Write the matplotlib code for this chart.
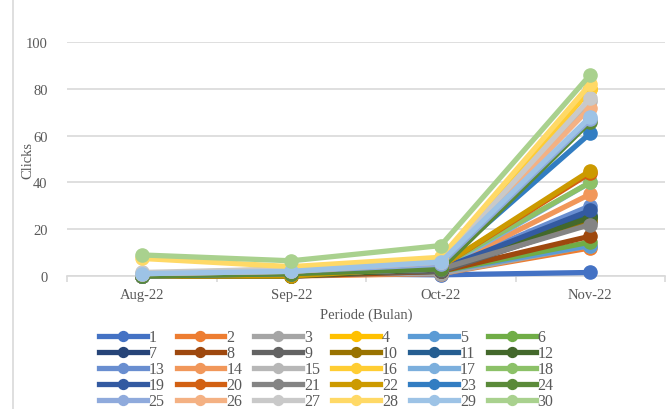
import matplotlib
matplotlib.use('Agg')
import matplotlib.pyplot as plt
from matplotlib.lines import Line2D

plt.rcParams['font.family'] = ['Liberation Serif', 'DejaVu Serif']

# periode dan jumlah klik per seri (1..30)
bulan = ['Aug-22', 'Sep-22', 'Oct-22', 'Nov-22']
seri = [str(i) for i in range(1, 31)]
aug = [0, 0, 0, 0, 0, 0, 0, 0, 0, 0, 0, 0, 0, 0, 1, 1, 0, 0,
       0, 0, 0, 0, 0, 0, 1, 1, 1.5, 7.5, 1, 9]
sep = [1, 0, 1, 1, 0, 1, 1, 0, 1, 1, 1, 0, 1, 1, 2, 3, 1, 1,
       1, 1, 1, 0, 1, 1, 2, 2, 3, 4, 2, 6.5]
oct_ = [0.5, 1, 1, 2, 2, 2, 2, 2, 2, 3, 3, 3, 3, 3, 4, 5, 3, 4,
        3, 4, 3, 4, 5, 3, 5, 6, 6, 8, 6, 13]
nov = [1.5, 12, 13, 80, 13, 14.5, 25, 17, 23, 24, 26, 25, 30, 35, 75, 80, 40, 40,
       28, 44, 22, 45, 61, 66, 67, 72, 76, 82, 68, 86]

warna = ['#4472C4', '#ED7D31', '#A5A5A5', '#FFC000', '#5B9BD5', '#70AD47',
         '#264478', '#9E480E', '#636363', '#997300', '#255E91', '#43682B',
         '#698ED0', '#F1975A', '#B7B7B7', '#FFCD33', '#7CAFDD', '#8CC168',
         '#335AA1', '#D26012', '#848484', '#CC9A00', '#327DC2', '#5A8A39',
         '#8FAADC', '#F4B183', '#C9C9C9', '#FFD966', '#9DC3E6', '#A9D18E']

teks = '#595959'
garis = '#D9D9D9'

fig = plt.figure(figsize=(6.72, 4.10), dpi=100)
ax = fig.add_axes([0.0997, 0.3244, 0.8899, 0.5707])

x = list(range(len(bulan)))
handles = []
for i in range(len(seri)):
    y = [aug[i], sep[i], oct_[i], nov[i]]
    h, = ax.plot(x, y, '-o', color=warna[i], lw=3.8, ms=9.5, clip_on=False,
                 zorder=3 + i * 0.01, label=seri[i])
    handles.append(h)

ax.set_xlim(-0.5, 3.5)
ax.set_ylim(0, 100)
ax.set_yticks(range(0, 101, 20))
ax.yaxis.grid(True, color=garis, lw=1.2)
ax.set_axisbelow(True)
for s in ['top', 'right', 'left']:
    ax.spines[s].set_visible(False)
ax.spines['bottom'].set_color(garis)
ax.spines['bottom'].set_linewidth(1.2)

# label kategori di tengah, tick di batas kategori
ax.set_xticks([-0.5, 0.5, 1.5, 2.5, 3.5])
ax.set_xticklabels([])
ax.set_xticks(x, minor=True)
ax.set_xticklabels(bulan, minor=True)
ax.tick_params(axis='x', which='major', length=4, color=garis, width=1.2)
ax.tick_params(axis='x', which='minor', length=0, pad=9, labelsize=10.5, labelcolor=teks)
ax.tick_params(axis='y', length=0, pad=14, labelsize=10.5, labelcolor=teks)

ax.set_xlabel('Periode (Bulan)', fontsize=10.5, color=teks, labelpad=4)
ax.set_ylabel('Clicks', fontsize=10.5, color=teks)
ax.yaxis.set_label_coords(-0.054, 0.5)

# legenda diisi per baris (6 kolom)
urut = [handles[r * 6 + c] for c in range(6) for r in range(5)]
fig.legend(handles=urut, labels=[h.get_label() for h in urut], ncol=6,
           loc='upper left', bbox_to_anchor=(0.135, 0.2135), frameon=False,
           fontsize=11.5, handlelength=3.0, handletextpad=0.12, columnspacing=0.75,
           labelspacing=0.0, borderpad=0, markerscale=0.75, labelcolor=teks)

# bingkai area chart
fig.add_artist(Line2D([13 / 672, 13 / 672], [0, 1], color=garis, lw=1.2))

plt.savefig('out.png', dpi=100, facecolor='white')
